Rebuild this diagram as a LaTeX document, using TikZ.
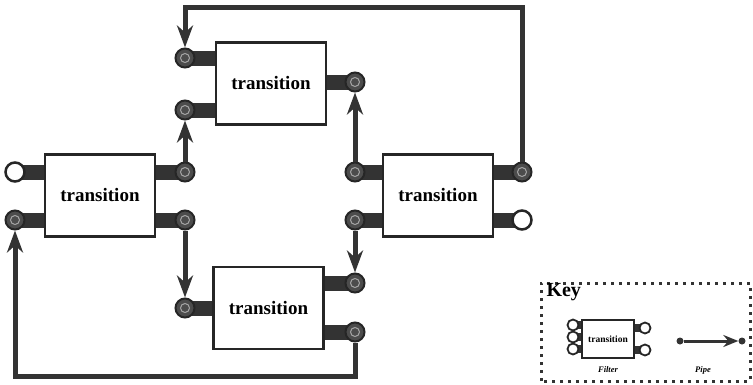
\documentclass[tikz,border=0pt]{standalone}
\usepackage{fontspec}
\setmainfont{Liberation Serif}
\usetikzlibrary{arrows.meta,backgrounds}
\tikzset{
    >={Stealth[length=22pt, width=16pt, inset=7pt]} % Default arrow tip
}
\tikzstyle{filter}=[
    draw = black!85,
    fill = white,
    line width = 2.5pt,
    minimum width = 110pt,
    minimum height = 82pt,
    font = \fontsize{19}{22}\selectfont\bfseries
]
\tikzstyle{port}=[
    circle,
    draw = black!85,
    fill = black!70,
    line width = 2pt,
    inner sep = 0pt,
    minimum size = 19pt,
    path picture = {\draw [black!35, line width = 1pt] (path picture bounding box.center) circle (4.5pt);}
]
\tikzstyle{openport}=[
    circle,
    draw = black!85,
    fill = white,
    line width = 2.5pt,
    inner sep = 0pt,
    minimum size = 19pt
]
\tikzstyle{stub}=[black!80, line width = 15pt]
\tikzstyle{pipe}=[black!80, line width = 5pt, ->]
\tikzstyle{keyfilter}=[
    draw = black!85,
    fill = white,
    line width = 1.5pt,
    minimum width = 52pt,
    minimum height = 38pt,
    font = \fontsize{9.5}{11}\selectfont\bfseries
]
\tikzstyle{keyport}=[
    circle,
    draw = black!85,
    fill = white,
    line width = 1.8pt,
    inner sep = 0pt,
    minimum size = 11pt
]
\tikzstyle{keystub}=[black!80, line width = 8pt]
\tikzstyle{pipedot}=[circle, fill = black!80, inner sep = 0pt, minimum size = 7pt]
\tikzstyle{keyborder}=[black!80, line width = 3pt, dash pattern = on 3pt off 5pt]

\begin{document}
\begin{tikzpicture}[x=1pt, y=1pt]
    \useasboundingbox (0, 0) rectangle (753, 384);

    % filters
    \node [filter] (l) at (100, 188.5) {transition};
    \node [filter] (t) at (271, 300.5) {transition};
    \node [filter] (r) at (438, 188.5) {transition};
    \node [filter] (b) at (268.5, 76) {transition};

    % ports
    \node [openport] (lin1) at (15, 212) {};
    \node [port] (lin2) at (15, 164) {};
    \node [port] (lout1) at (185, 212) {};
    \node [port] (lout2) at (185, 164) {};

    \node [port] (tin1) at (185, 326) {};
    \node [port] (tin2) at (185, 274) {};
    \node [port] (tout) at (355, 302) {};

    \node [port] (rin1) at (355, 212) {};
    \node [port] (rin2) at (355, 164) {};
    \node [port] (rout1) at (522, 212) {};
    \node [openport] (rout2) at (522, 164) {};

    \node [port] (bin) at (185, 76) {};
    \node [port] (bout1) at (355, 101) {};
    \node [port] (bout2) at (355, 52) {};

    \begin{scope}[on background layer]
        \foreach \p/\f in {lin1/l, lin2/l, lout1/l, lout2/l, tin1/t, tin2/t, tout/t,
                           rin1/r, rin2/r, rout1/r, rout2/r, bin/b, bout1/b, bout2/b}
            \draw [stub] (\p.center) -- (\p.center -| \f.center);
    \end{scope}

    % pipes
    \coordinate (top) at (522, 376);
    \coordinate (bottom) at (15, 8);
    \draw [pipe] (lout1) -- (tin2);
    \draw [pipe] (lout2) -- (bin);
    \draw [pipe] (rin1) -- (tout);
    \draw [pipe] (rin2) -- (bout1);
    \draw [pipe] (rout1) -- (top) -| (tin1);
    \draw [pipe] (bout2) |- (bottom) -- (lin2);

    % key
    \draw [keyborder] (541, 3) rectangle (750, 101);
    \node [anchor = west, font = \fontsize{20}{22}\selectfont\bfseries] (key) at (543, 92) {Key};

    \node [keyfilter] (kf) at (608, 45) {transition};
    \node [keyport] (ka) at (573, 59) {};
    \node [keyport] (kb) at (573, 47) {};
    \node [keyport] (kc) at (573, 35) {};
    \node [keyport] (kd) at (645, 56) {};
    \node [keyport] (ke) at (645, 34) {};
    \begin{scope}[on background layer]
        \foreach \p in {ka, kb, kc, kd, ke}
            \draw [keystub] (\p.center) -- (\p.center -| kf.center);
    \end{scope}

    \node [pipedot] (pa) at (680, 43) {};
    \node [pipedot] (pb) at (742, 43) {};
    \draw [black!80, line width = 3pt, -{Stealth[length=15pt, width=12pt, inset=5pt]}] (pa) -- (pb);

    \node [font = \fontsize{8.5}{10}\selectfont\bfseries\itshape] (filterlabel) at (608, 14) {Filter};
    \node [font = \fontsize{8.5}{10}\selectfont\bfseries\itshape] (pipelabel) at (703, 14) {Pipe};
\end{tikzpicture}
\end{document}
